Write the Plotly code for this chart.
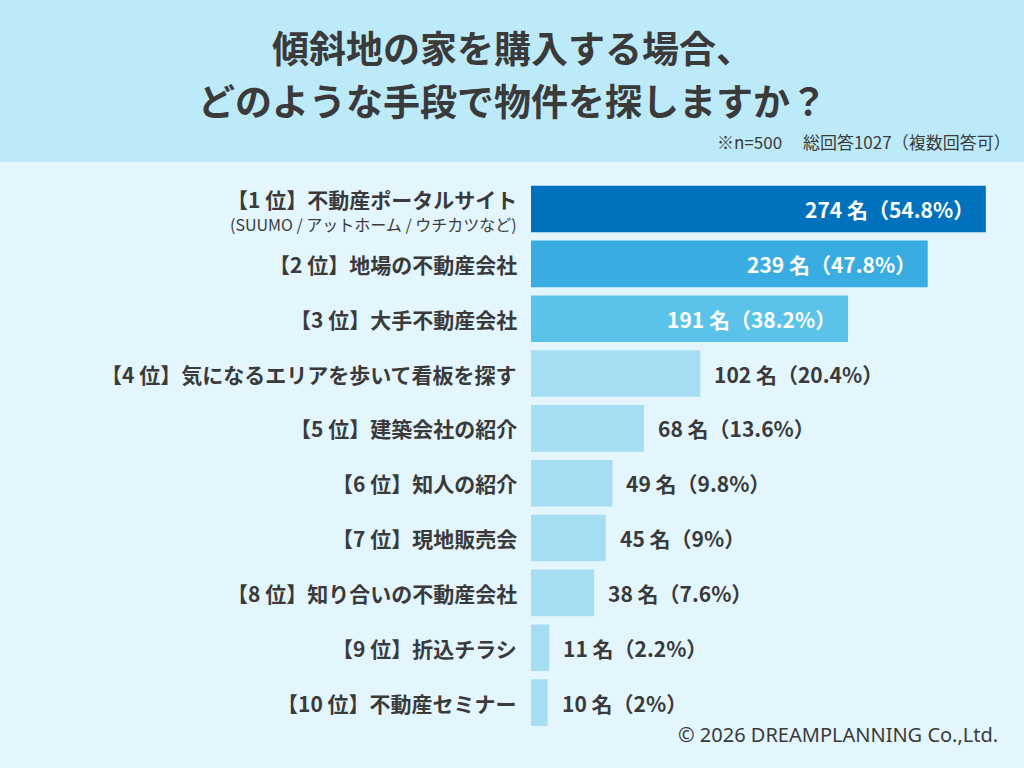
import plotly.graph_objects as go

# data
labels = [
    "【1 位】不動産ポータルサイト",
    "【2 位】地場の不動産会社",
    "【3 位】大手不動産会社",
    "【4 位】気になるエリアを歩いて看板を探す",
    "【5 位】建築会社の紹介",
    "【6 位】知人の紹介",
    "【7 位】現地販売会",
    "【8 位】知り合いの不動産会社",
    "【9 位】折込チラシ",
    "【10 位】不動産セミナー",
]
sub_label = "(SUUMO / アットホーム / ウチカツなど)"
counts = [274, 239, 191, 102, 68, 49, 45, 38, 11, 10]
pcts = ["54.8", "47.8", "38.2", "20.4", "13.6", "9.8", "9", "7.6", "2.2", "2"]

bar_colors = ["#0071bc", "#39ade1", "#5bc3ea"] + ["#a5ddf3"] * 7
n_inside = 3

ink = "#3a3a3a"
font_jp = "Noto Sans CJK JP"

cats = [str(i) for i in range(len(labels))]
texts = [f"<b>{c} 名（{p}%）</b>" for c, p in zip(counts, pcts)]

fig = go.Figure(go.Bar(
    x=counts, y=cats, orientation="h",
    marker=dict(color=bar_colors, line=dict(width=0)),
    width=0.85, hoverinfo="skip",
))

fig.update_yaxes(categoryorder="array", categoryarray=cats, autorange="reversed",
                 showticklabels=False, showgrid=False, zeroline=False)
fig.update_xaxes(range=[0, 297], visible=False)

# category labels
for i, lab in enumerate(labels):
    shift = 10 if i == 0 else 0
    fig.add_annotation(x=0, y=cats[i], xref="paper", yref="y", text=f"<b>{lab}</b>",
                       xanchor="right", yanchor="middle", xshift=-12, yshift=shift,
                       showarrow=False, font=dict(family=font_jp, size=21, color=ink))
fig.add_annotation(x=0, y=cats[0], xref="paper", yref="y", text=sub_label,
                   xanchor="right", yanchor="middle", xshift=-12, yshift=-15,
                   showarrow=False, font=dict(family=font_jp, size=16, color=ink))

# value labels: inside the top three bars, outside the rest
for i, (c, t) in enumerate(zip(counts, texts)):
    if i < n_inside:
        fig.add_annotation(x=c, y=cats[i], xref="x", yref="y", text=t,
                           xanchor="right", yanchor="middle", xshift=-10,
                           showarrow=False, font=dict(family=font_jp, size=21, color="white"))
    else:
        fig.add_annotation(x=c, y=cats[i], xref="x", yref="y", text=t,
                           xanchor="left", yanchor="middle", xshift=12,
                           showarrow=False, font=dict(family=font_jp, size=21, color=ink))

fig.update_layout(
    width=1024, height=768,
    margin=dict(l=531, r=0, t=180, b=38),
    paper_bgcolor="#e3f6fe", plot_bgcolor="rgba(0,0,0,0)",
    showlegend=False,
)

# header band and texts, positioned in paper coords from pixel positions
plot_w = 1024 - 531
plot_h = 768 - 180 - 38
def px_x(px):
    return (px - 531) / plot_w
def px_y(py):
    return (768 - 38 - py) / plot_h

fig.add_shape(type="rect", xref="paper", yref="paper",
              x0=px_x(-5), x1=px_x(1030), y0=px_y(162), y1=px_y(-5),
              fillcolor="#bdeaf9", line=dict(width=0), layer="below")

fig.add_annotation(x=px_x(512), y=px_y(47), xref="paper", yref="paper",
                   text="<b>傾斜地の家を購入する場合、</b>", showarrow=False,
                   xanchor="center", yanchor="middle",
                   font=dict(family=font_jp, size=37, color=ink))
fig.add_annotation(x=px_x(512), y=px_y(100), xref="paper", yref="paper",
                   text="<b>どのような手段で物件を探しますか？</b>", showarrow=False,
                   xanchor="center", yanchor="middle",
                   font=dict(family=font_jp, size=37, color=ink))
fig.add_annotation(x=px_x(1013), y=px_y(141), xref="paper", yref="paper",
                   text="※n=500　 総回答1027（複数回答可）", showarrow=False,
                   xanchor="right", yanchor="middle",
                   font=dict(family=font_jp, size=17, color=ink))
fig.add_annotation(x=px_x(1000), y=px_y(734), xref="paper", yref="paper",
                   text="© 2026 DREAMPLANNING Co.,Ltd.", showarrow=False,
                   xanchor="right", yanchor="middle",
                   font=dict(family="Noto Sans", size=20, color=ink))

fig.write_html("out.html", config={"displayModeBar": False},
               post_script="document.body.style.margin='0';")
